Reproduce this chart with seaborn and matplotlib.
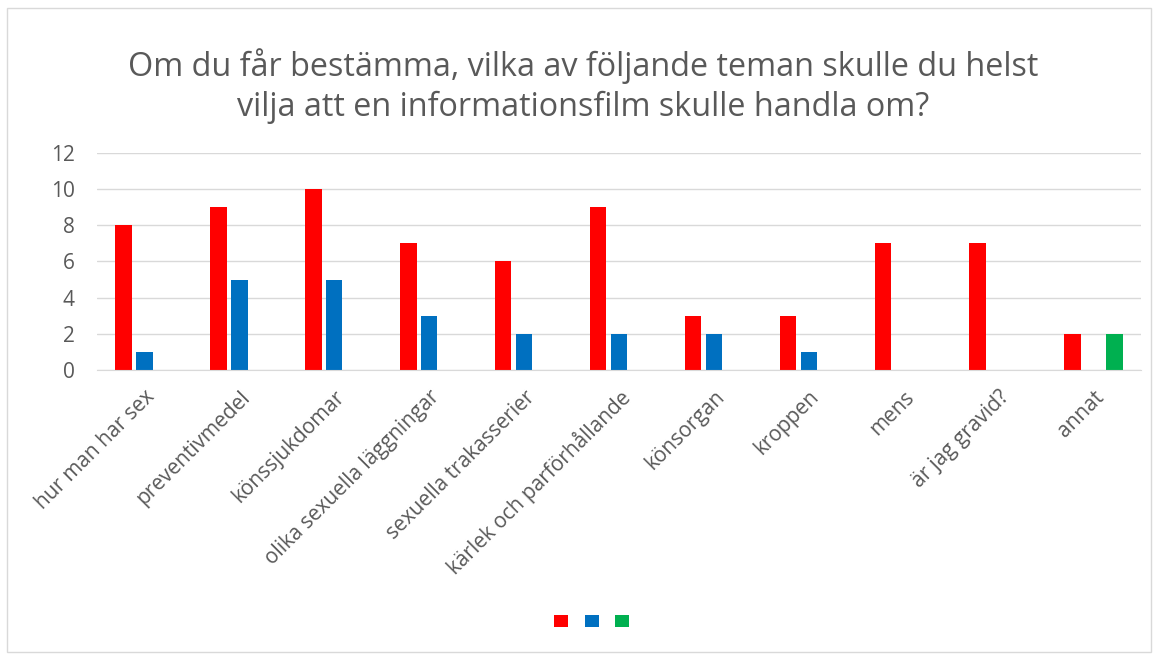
import pandas as pd
import matplotlib
matplotlib.use('Agg')
import matplotlib.pyplot as plt
import seaborn as sns
from matplotlib.patches import Rectangle

# data
teman = ['hur man har sex', 'preventivmedel', 'könssjukdomar', 'olika sexuella läggningar',
         'sexuella trakasserier', 'kärlek och parförhållande', 'könsorgan', 'kroppen',
         'mens', 'är jag gravid?', 'annat']
serie_1 = [8, 9, 10, 7, 6, 9, 3, 3, 7, 7, 2]
serie_2 = [1, 5, 5, 3, 2, 2, 2, 1, 0, 0, 0]
serie_3 = [0, 0, 0, 0, 0, 0, 0, 0, 0, 0, 2]
serier = ['Serie 1', 'Serie 2', 'Serie 3']
farger = ['#FF0000', '#0070C0', '#00B050']

df = pd.DataFrame({'tema': teman * 3,
                   'serie': [s for s in serier for _ in teman],
                   'antal': serie_1 + serie_2 + serie_3})

sns.set_style('white')
plt.rcParams['font.family'] = ['Open Sans', 'DejaVu Sans']

fig = plt.figure(figsize=(11.6, 6.56), dpi=100)
ax = fig.add_axes([0.0836, 0.436, 0.9, 0.331])

sns.barplot(data=df, x='tema', y='antal', hue='serie', palette=farger, saturation=1,
            width=0.66, gap=0.21, linewidth=0, ax=ax)

ax.set_ylim(0, 12)
ax.set_yticks(range(0, 13, 2))
ax.set_xlim(-0.5, len(teman) - 0.5)
ax.grid(axis='y', color='#D9D9D9', linewidth=1)
ax.set_axisbelow(True)
for s in ['top', 'right', 'left']:
    ax.spines[s].set_visible(False)
ax.spines['bottom'].set_color('#D9D9D9')
ax.set_xlabel('')
ax.set_ylabel('')
ax.tick_params(axis='both', length=0, labelsize=15, colors='#595959')
ax.tick_params(axis='y', pad=16)
ax.tick_params(axis='x', pad=12)
plt.setp(ax.get_xticklabels(), rotation=45, ha='right', rotation_mode='anchor')

handles, _ = ax.get_legend_handles_labels()
ax.get_legend().remove()
fig.legend(handles, ['', '', ''], loc='center', bbox_to_anchor=(0.51, 1 - 622 / 656),
           ncol=3, frameon=False, fontsize=10, handlelength=1.0, handleheight=1.0,
           handletextpad=0, columnspacing=1.22)

fig.text(0.503, 1 - 86 / 656,
         'Om du får bestämma, vilka av följande teman skulle du helst\n'
         'vilja att en informationsfilm skulle handla om?',
         ha='center', va='center', fontsize=23.3, color='#595959', linespacing=1.25)

fig.patches.append(Rectangle((7 / 1160, 1 - 652 / 656), 1144 / 1160, 644 / 656,
                             transform=fig.transFigure, fill=False,
                             edgecolor='#D9D9D9', linewidth=1))

fig.savefig('out.png', dpi=100)
